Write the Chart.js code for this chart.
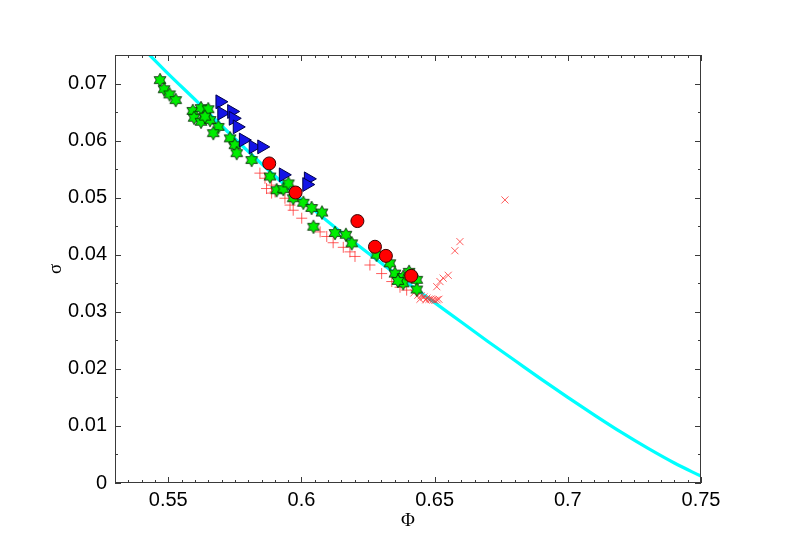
<!DOCTYPE html>
<html>
<head>
<meta charset="utf-8">
<script src="https://cdn.jsdelivr.net/npm/chart.js@4.4.1/dist/chart.umd.min.js"></script>
<style>
  html, body { margin: 0; padding: 0; background: #fff; }
  canvas { display: block; }
</style>
</head>
<body>
<canvas id="phiChart" width="789" height="558"></canvas>
<script>
// Sigma vs Phi scatter with fitted curve

var xTicks = [0.55, 0.6, 0.65, 0.7, 0.75];
var xTickLabels = ['0.55', '0.6', '0.65', '0.7', '0.75'];
var yTicks = [0, 0.01, 0.02, 0.03, 0.04, 0.05, 0.06, 0.07];
var yTickLabels = ['0', '0.01', '0.02', '0.03', '0.04', '0.05', '0.06', '0.07'];

// cyan curve
var lineX = [0.543, 0.55, 0.56, 0.57, 0.58, 0.59, 0.60, 0.61, 0.62, 0.63, 0.64, 0.65, 0.66, 0.67, 0.68, 0.69, 0.70, 0.71, 0.72, 0.73, 0.74, 0.75];
var lineY = [0.0750, 0.0717, 0.0672, 0.0626, 0.0581, 0.0538, 0.0497, 0.0458, 0.0421, 0.0385, 0.0350, 0.0316, 0.0282, 0.0248, 0.0215, 0.0182, 0.0150, 0.0119, 0.0089, 0.0061, 0.0035, 0.0012];

// green hexagrams
var starX = [0.5469, 0.5484, 0.5505, 0.5528, 0.5592, 0.5623, 0.5650, 0.5597, 0.5623, 0.5657, 0.5638, 0.5688, 0.5669, 0.5732, 0.5750, 0.5757, 0.5813, 0.5882, 0.5907, 0.5932, 0.5951, 0.5969, 0.6007, 0.6038, 0.6077, 0.6045, 0.6126, 0.6167, 0.6189, 0.6282, 0.6332, 0.6351, 0.6382, 0.6382, 0.6433, 0.6433, 0.6404, 0.6362];
var starY = [0.0706, 0.0690, 0.0681, 0.0671, 0.0652, 0.0657, 0.0655, 0.0640, 0.0633, 0.0636, 0.0642, 0.0624, 0.0613, 0.0604, 0.0592, 0.0578, 0.0566, 0.0537, 0.0513, 0.0515, 0.0525, 0.0499, 0.0491, 0.0482, 0.0474, 0.0449, 0.0438, 0.0435, 0.0420, 0.0400, 0.0385, 0.0367, 0.0361, 0.0350, 0.0356, 0.0339, 0.0370, 0.0354];

// blue right-pointing triangles
var triX = [0.5694, 0.5701, 0.5738, 0.5744, 0.5759, 0.5782, 0.5819, 0.5851, 0.5932, 0.6026, 0.6020];
var triY = [0.0668, 0.0648, 0.0651, 0.0639, 0.0624, 0.0601, 0.0589, 0.0589, 0.0540, 0.0533, 0.0523];

// red circles
var circX = [0.5879, 0.5978, 0.6210, 0.6276, 0.6317, 0.6412];
var circY = [0.0560, 0.0509, 0.0459, 0.0414, 0.0398, 0.0363];

// red plus markers
var plusX = [0.5844, 0.5863, 0.5888, 0.5901, 0.5869, 0.5888, 0.5938, 0.5957, 0.5969, 0.6001, 0.6070, 0.6095, 0.6119, 0.6157, 0.6182, 0.6201, 0.6257, 0.6301, 0.6339, 0.6370, 0.6395];
var plusY = [0.0543, 0.0534, 0.0522, 0.0510, 0.0516, 0.0508, 0.0499, 0.0487, 0.0478, 0.0464, 0.0440, 0.0432, 0.0421, 0.0413, 0.0405, 0.0397, 0.0382, 0.0367, 0.0353, 0.0343, 0.0338];

// red x markers
var crossX = [0.6422, 0.6437, 0.6449, 0.6460, 0.6471, 0.6479, 0.6486, 0.6494, 0.6501, 0.6509, 0.6516, 0.6467, 0.6445, 0.6508, 0.6520, 0.6532, 0.6551, 0.6576, 0.6595, 0.6764];
var crossY = [0.0333, 0.0329, 0.0328, 0.0326, 0.0324, 0.0322, 0.0322, 0.0321, 0.0320, 0.0321, 0.0322, 0.0321, 0.0322, 0.0344, 0.0353, 0.0359, 0.0364, 0.0407, 0.0423, 0.0496];

function toPoints(xs, ys) {
  return xs.map(function(x, i) { return { x: x, y: ys[i] }; });
}

// hexagram marker as an image, since Chart.js has no such point style
function makeHexagram(R) {
  var size = Math.ceil(R * 2 + 4);
  var c = document.createElement('canvas');
  c.width = size;
  c.height = size;
  var g = c.getContext('2d');
  var cx = size / 2;
  g.beginPath();
  for (var k = 0; k < 12; k++) {
    var r = k % 2 === 0 ? R : R * 0.56;
    var ang = -Math.PI / 2 + k * Math.PI / 6;
    var px = cx + r * Math.cos(ang);
    var py = cx + r * Math.sin(ang);
    if (k === 0) g.moveTo(px, py); else g.lineTo(px, py);
  }
  g.closePath();
  g.fillStyle = '#00ee00';
  g.fill();
  g.strokeStyle = '#0a2a0a';
  g.lineWidth = 0.9;
  g.stroke();
  return c;
}

// box with inward ticks on all four sides (major + minor)
var frameTicks = {
  id: 'frameTicks',
  afterDraw: function(chart) {
    var ctx = chart.ctx;
    var a = chart.chartArea;
    var xs = chart.scales.x;
    var ys = chart.scales.y;
    ctx.save();
    ctx.strokeStyle = '#3a3a3a';
    ctx.lineWidth = 1;
    ctx.strokeRect(a.left + 0.5, a.top + 0.5, a.right - a.left - 1, a.bottom - a.top - 1);
    ctx.beginPath();
    var i, v, p, len;
    for (i = 0; i <= 44; i++) {
      v = 0.53 + i * 0.005;
      len = (i % 10 === 4) ? 6 : 3;
      p = Math.round(xs.getPixelForValue(v)) + 0.5;
      ctx.moveTo(p, a.bottom);
      ctx.lineTo(p, a.bottom - len);
      ctx.moveTo(p, a.top);
      ctx.lineTo(p, a.top + len);
    }
    for (i = 0; i <= 15; i++) {
      v = i * 0.005;
      len = (i % 2 === 0) ? 6 : 3;
      p = Math.round(ys.getPixelForValue(v)) + 0.5;
      ctx.moveTo(a.left, p);
      ctx.lineTo(a.left + len, p);
      ctx.moveTo(a.right, p);
      ctx.lineTo(a.right - len, p);
    }
    ctx.stroke();
    ctx.restore();
  }
};

var tickFont = { family: '"Liberation Sans", Arial, sans-serif', size: 20 };
var titleFont = { family: '"Liberation Serif", "Times New Roman", serif', size: 19 };

new Chart(document.getElementById('phiChart'), {
  type: 'scatter',
  data: {
    datasets: [
      {
        label: 'circles',
        data: toPoints(circX, circY),
        pointStyle: 'circle',
        pointRadius: 6.5,
        backgroundColor: '#ff0000',
        borderColor: '#3a0000',
        borderWidth: 1
      },
      {
        label: 'triangles',
        data: toPoints(triX, triY),
        pointStyle: 'triangle',
        rotation: 90,
        pointRadius: 8,
        backgroundColor: '#1414e6',
        borderColor: '#00004a',
        borderWidth: 1
      },
      {
        label: 'stars',
        data: toPoints(starX, starY),
        pointStyle: makeHexagram(6.8),
        pointRadius: 7
      },
      {
        label: 'x',
        data: toPoints(crossX, crossY),
        pointStyle: 'crossRot',
        pointRadius: 5,
        borderColor: 'rgba(255, 40, 40, 0.75)',
        borderWidth: 1
      },
      {
        label: 'plus',
        data: toPoints(plusX, plusY),
        pointStyle: 'cross',
        pointRadius: 5.5,
        borderColor: 'rgba(255, 40, 40, 0.75)',
        borderWidth: 1
      },
      {
        label: 'fit',
        data: toPoints(lineX, lineY),
        showLine: true,
        pointRadius: 0,
        borderColor: '#00ffff',
        borderWidth: 3.2,
        cubicInterpolationMode: 'monotone',
        fill: false
      }
    ]
  },
  options: {
    responsive: false,
    animation: false,
    devicePixelRatio: 1,
    layout: { padding: { top: 55, right: 88, left: 0, bottom: 0 } },
    plugins: {
      legend: { display: false },
      tooltip: { enabled: false }
    },
    scales: {
      x: {
        type: 'linear',
        min: 0.53,
        max: 0.75,
        grid: { display: false, drawTicks: false },
        border: { display: false },
        afterBuildTicks: function(scale) {
          scale.ticks = xTicks.map(function(v) { return { value: v }; });
        },
        afterFit: function(scale) { scale.height = 75; },
        ticks: {
          padding: 5,
          color: '#000',
          font: tickFont,
          maxRotation: 0,
          callback: function(v, i) { return xTickLabels[i]; }
        },
        title: {
          display: true,
          text: 'Φ',
          color: '#000',
          font: titleFont,
          padding: { top: 0, bottom: 26 }
        }
      },
      y: {
        type: 'linear',
        min: 0,
        max: 0.075,
        grid: { display: false, drawTicks: false },
        border: { display: false },
        afterBuildTicks: function(scale) {
          scale.ticks = yTicks.map(function(v) { return { value: v }; });
        },
        afterFit: function(scale) { scale.width = 115; },
        ticks: {
          padding: 8,
          color: '#000',
          font: tickFont,
          callback: function(v, i) { return yTickLabels[i]; }
        },
        title: {
          display: true,
          text: 'σ',
          color: '#000',
          font: titleFont,
          padding: { top: 45, bottom: 0 }
        }
      }
    }
  },
  plugins: [frameTicks]
});
</script>
</body>
</html>
